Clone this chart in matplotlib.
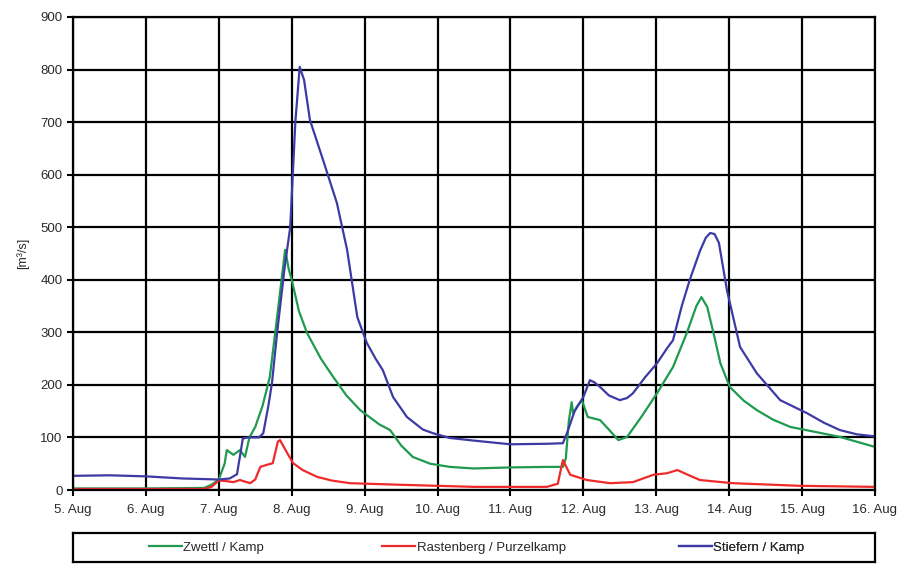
import matplotlib
matplotlib.use("Agg")
import matplotlib.pyplot as plt
from matplotlib.lines import Line2D

# day offsets from 5. Aug, discharge in m3/s
day_labels = ["5. Aug", "6. Aug", "7. Aug", "8. Aug", "9. Aug", "10. Aug",
              "11. Aug", "12. Aug", "13. Aug", "14. Aug", "15. Aug", "16. Aug"]

zwettl_t = [0, 1, 1.8, 1.9, 2.0, 2.08, 2.11, 2.2, 2.29, 2.36, 2.42, 2.5, 2.6, 2.7,
            2.8, 2.91, 2.96, 3.0, 3.1, 3.21, 3.4, 3.57, 3.75, 3.94, 4.2, 4.35, 4.5,
            4.66, 4.9, 5.17, 5.5, 6.0, 6.5, 6.72, 6.76, 6.8, 6.84, 6.86, 6.92, 6.98,
            7.06, 7.23, 7.35, 7.48, 7.6, 7.8, 8.01, 8.23, 8.42, 8.55, 8.62, 8.7, 8.8,
            8.88, 9.01, 9.2, 9.38, 9.6, 9.84, 10.2, 10.52, 11.0]
zwettl_q = [3, 3, 4, 10, 20, 50, 76, 67, 76, 63, 100, 120, 160, 215,
            329, 457, 420, 400, 340, 299, 250, 215, 180, 152, 125, 114, 85,
            63, 50, 44, 41, 43, 44, 44, 60, 130, 167, 146, 160, 171,
            139, 133, 115, 95, 101, 140, 184, 234, 299, 350, 367, 348, 290,
            241, 196, 170, 152, 134, 120, 110, 101, 82]

rastenberg_t = [0, 1.8, 1.9, 2.0, 2.1, 2.2, 2.29, 2.43, 2.5, 2.57, 2.66, 2.74, 2.81,
                2.84, 2.94, 3.02, 3.15, 3.35, 3.55, 3.8, 4.49, 5.5, 6.5, 6.65, 6.72,
                6.82, 7.05, 7.37, 7.68, 7.96, 8.15, 8.29, 8.45, 8.6, 9.05, 9.97, 11.0]
rastenberg_q = [2, 2, 6, 18, 17, 15, 19, 13, 20, 44, 48, 51, 92,
                95, 70, 51, 38, 25, 18, 13, 10, 6, 6, 12, 57,
                29, 19, 13, 15, 29, 32, 38, 28, 19, 13, 8, 6]

stiefern_t = [0, 0.5, 1.0, 1.5, 2.0, 2.15, 2.25, 2.33, 2.4, 2.55, 2.61, 2.68, 2.73,
              2.8, 2.9, 2.98, 3.05, 3.11, 3.17, 3.25, 3.43, 3.62, 3.76, 3.9, 4.03,
              4.15, 4.25, 4.39, 4.58, 4.8, 4.94, 5.17, 5.5, 6.0, 6.5, 6.72, 6.78,
              6.88, 7.0, 7.09, 7.15, 7.23, 7.35, 7.5, 7.6, 7.68, 7.85, 8.01, 8.15,
              8.23, 8.35, 8.46, 8.6, 8.68, 8.74, 8.8, 8.86, 8.97, 9.15, 9.38, 9.55,
              9.7, 10.07, 10.3, 10.52, 10.75, 11.0]
stiefern_q = [27, 28, 26, 22, 20, 22, 30, 98, 100, 100, 108, 160, 204,
              299, 420, 500, 700, 805, 780, 704, 628, 546, 457, 329, 280,
              250, 228, 177, 139, 115, 108, 99, 94, 87, 88, 89, 110,
              150, 177, 209, 205, 196, 180, 171, 175, 184, 215, 241, 270,
              285, 350, 400, 455, 480, 489, 487, 470, 380, 272, 222, 195,
              171, 146, 128, 114, 106, 102]

series = [
    ("Zwettl / Kamp", zwettl_t, zwettl_q, "#1f9a4f"),
    ("Rastenberg / Purzelkamp", rastenberg_t, rastenberg_q, "#ee2a2a"),
    ("Stiefern / Kamp", stiefern_t, stiefern_q, "#3d3aa5"),
]

plt.rcParams["font.family"] = ["Liberation Sans", "DejaVu Sans"]

fig = plt.figure(figsize=(9.12, 5.65), dpi=100)
ax = fig.add_axes([0.080, 0.1327, 0.8794, 0.8373])

for name, t, q, col in series:
    ax.plot(t, q, color=col, lw=1.6, label=name)

ax.set_xlim(0, 11)
ax.set_ylim(0, 900)
ax.set_xticks(range(len(day_labels)))
ax.set_xticklabels(day_labels)
ax.set_yticks(range(0, 901, 100))
ax.grid(True, color="black", lw=1.6)
ax.set_axisbelow(True)
for s in ax.spines.values():
    s.set_color("black")
    s.set_linewidth(1.6)
ax.tick_params(colors="black", labelcolor="#2a2a2a", labelsize=9.5,
               width=1.5, length=4)
ax.tick_params(axis="x", pad=6)
ax.set_ylabel("[m³/s]", fontsize=9, color="#2a2a2a", labelpad=8)

# legend box under the chart
lax = fig.add_axes([0.080, 0.006, 0.8794, 0.050])
lax.set_xticks([])
lax.set_yticks([])
for s in lax.spines.values():
    s.set_color("black")
    s.set_linewidth(1.6)
for i, (name, t, q, col) in enumerate(series):
    h = Line2D([], [], color=col, lw=1.6)
    leg = lax.legend([h], [name], loc="center", bbox_to_anchor=((2 * i + 1) / 6, 0.5),
                     frameon=False, fontsize=9.5, handlelength=2.5, handletextpad=0.1,
                     labelcolor="#2a2a2a")
    lax.add_artist(leg)

fig.savefig("out.png", dpi=100)
